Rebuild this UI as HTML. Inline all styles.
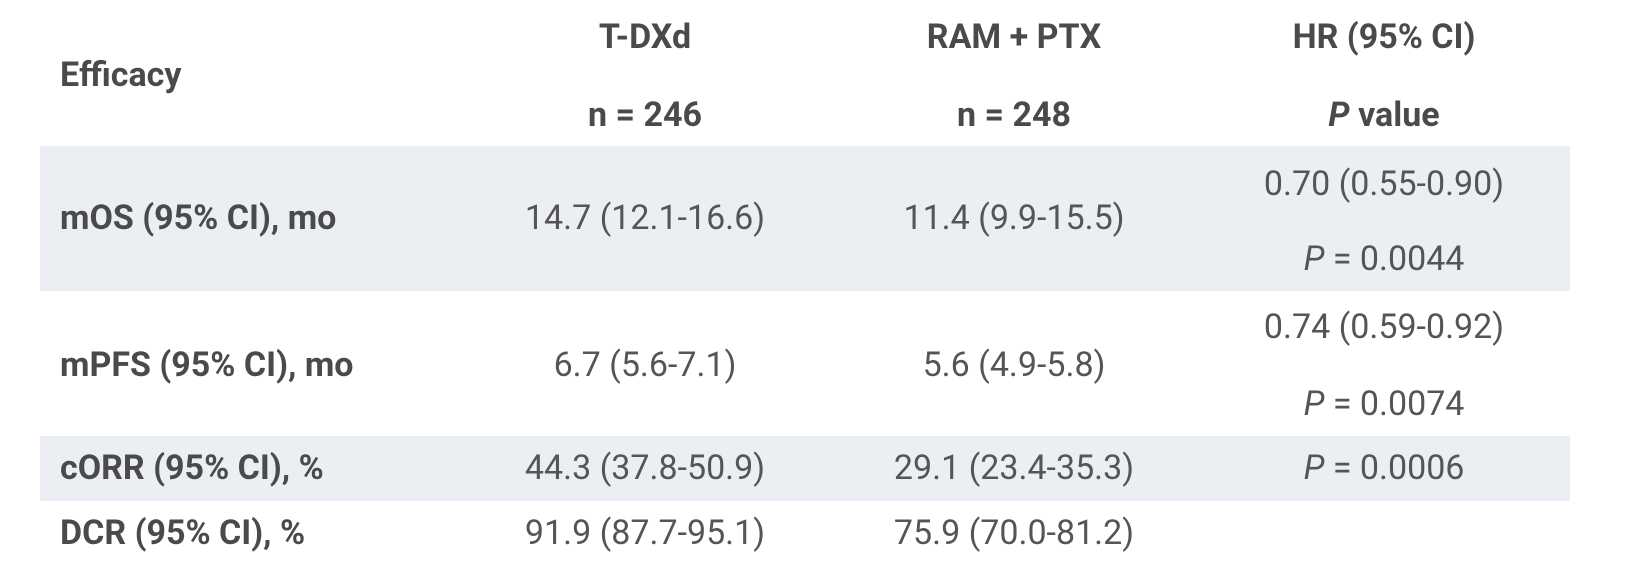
<!DOCTYPE html>
<html><head><meta charset="utf-8"><style>
body{margin:0;width:1629px;height:581px;background:#fff;position:relative;overflow:hidden;font-family:"Roboto","Liberation Sans",sans-serif;color:#555;}
.bg{position:absolute;left:40px;width:1530px;background:#ebeef3;}
.t{position:absolute;height:40px;line-height:40px;font-size:34px;white-space:nowrap;}
.c{transform:translateX(-50%);}
.b{font-weight:bold;color:#4a4a4a;}
</style></head><body>
<div class="bg" style="top:146px;height:145px"></div>
<div class="bg" style="top:436px;height:65px"></div>

<div class="t b" style="left:60px;top:55px">Efficacy</div>
<div class="t b c" style="left:645px;top:17px">T-DXd</div>
<div class="t b c" style="left:645px;top:95px">n = 246</div>
<div class="t b c" style="left:1014px;top:17px">RAM + PTX</div>
<div class="t b c" style="left:1014px;top:95px">n = 248</div>
<div class="t b c" style="left:1384px;top:17px">HR (95% CI)</div>
<div class="t b c" style="left:1384px;top:95px"><i>P</i> value</div>

<div class="t b" style="left:60px;top:198px">mOS (95% CI), mo</div>
<div class="t c" style="left:645px;top:198px">14.7 (12.1-16.6)</div>
<div class="t c" style="left:1014px;top:198px">11.4 (9.9-15.5)</div>
<div class="t c" style="left:1384px;top:164px">0.70 (0.55-0.90)</div>
<div class="t c" style="left:1384px;top:239px"><i>P</i> = 0.0044</div>

<div class="t b" style="left:60px;top:345px">mPFS (95% CI), mo</div>
<div class="t c" style="left:645px;top:345px">6.7 (5.6-7.1)</div>
<div class="t c" style="left:1014px;top:345px">5.6 (4.9-5.8)</div>
<div class="t c" style="left:1384px;top:307px">0.74 (0.59-0.92)</div>
<div class="t c" style="left:1384px;top:384px"><i>P</i> = 0.0074</div>

<div class="t b" style="left:60px;top:448px">cORR (95% CI), %</div>
<div class="t c" style="left:645px;top:448px">44.3 (37.8-50.9)</div>
<div class="t c" style="left:1014px;top:448px">29.1 (23.4-35.3)</div>
<div class="t c" style="left:1384px;top:448px"><i>P</i> = 0.0006</div>

<div class="t b" style="left:60px;top:513px">DCR (95% CI), %</div>
<div class="t c" style="left:645px;top:513px">91.9 (87.7-95.1)</div>
<div class="t c" style="left:1014px;top:513px">75.9 (70.0-81.2)</div>
</body></html>
